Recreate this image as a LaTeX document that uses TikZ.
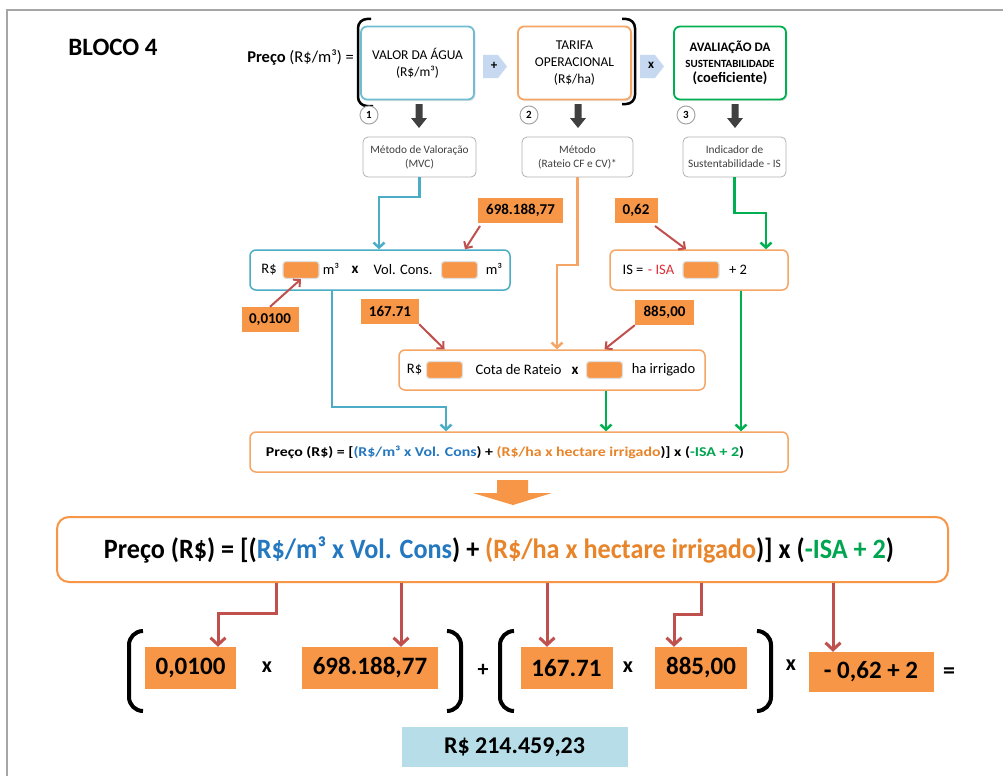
\documentclass[tikz,border=0pt]{standalone}
\usepackage{fontspec}
\setmainfont{Carlito}
\usepackage{graphicx}
\usetikzlibrary{arrows.meta,shadows}
\definecolor{orf}{HTML}{F79646}
\definecolor{orb}{HTML}{F5A565}
\definecolor{blb}{HTML}{4BACC6}
\definecolor{grb}{HTML}{00B050}
\definecolor{rar}{HTML}{C0504D}
\definecolor{btx}{HTML}{2478C0}
\definecolor{otx}{HTML}{E8842A}
\definecolor{gtx}{HTML}{00A550}
\definecolor{rtx}{HTML}{E0303A}
\definecolor{resb}{HTML}{B7DEE8}
\definecolor{darr}{HTML}{404040}
\definecolor{chev}{HTML}{C6D9F1}
\definecolor{frm}{HTML}{A6A6A6}
\newcommand{\fz}[2]{\fontsize{#1}{#2}\selectfont}
\begin{document}
\begin{tikzpicture}[x=1pt,y=-1pt,
  tbox/.style={draw, rounded corners=6pt, line width=1.8pt, fill=white, align=center, inner sep=0pt,
    drop shadow={opacity=0.2, shadow xshift=1.5pt, shadow yshift=-1.5pt}},
  sbox/.style={draw=gray!60, rounded corners=5pt, line width=0.8pt, fill=white, align=center,
    inner sep=0pt, text=darr, font=\fz{11.3}{14}},
  mbox/.style={draw, rounded corners=6pt, line width=1.5pt, fill=white, inner sep=0pt},
  lab/.style={fill=orf, inner sep=0pt, minimum height=25pt, font=\fz{15}{17}\bfseries},
  slot/.style={fill=orf, draw=black!12, line width=1.2pt, rounded corners=3pt, minimum width=36pt,
    minimum height=17pt, inner sep=0pt},
  num/.style={fill=orf, inner sep=0pt, minimum height=42pt, font=\fz{25}{30}\bfseries},
  circ/.style={circle, draw=gray!70, line width=1pt, fill=white, minimum size=18pt, inner sep=0pt,
    font=\fz{11}{13}\bfseries},
  txt/.style={inner sep=0pt, font=\fz{14.5}{17}},
  rarr/.style={draw=rar, line width=3pt, -{Straight Barb[length=7pt,width=15pt]}},
  rsm/.style={draw=rar, line width=2pt, -{Straight Barb[length=5pt,width=10pt]}},
  conn/.style={line width=2.5pt, -{Straight Barb[length=5pt,width=11pt]}},
  brk/.style={line width=2.5pt, rounded corners=9pt},
  bbrk/.style={line width=4pt, rounded corners=14pt},
]
\useasboundingbox (0,0) rectangle (1003,776);
\fill[white] (0,0) rectangle (1003,776);
\draw[frm, line width=1.5pt] (7,776) -- (7,10) -- (1003,10);

% title
\node[inner sep=0pt, font=\fz{25}{30}\bfseries] (bloco) at (113,47) {BLOCO 4};
\node[anchor=east, inner sep=0pt, font=\fz{16.5}{19}] (preco) at (354,58) {\textbf{Preço} (R\$/m³) =};

% top boxes
\node[tbox, draw=blb!80, minimum width=113pt, minimum height=73pt, font=\fz{13.5}{17}] (box1) at (417.5,63) {VALOR DA ÁGUA\\(R\$/m³)};
\node[tbox, draw=orb, minimum width=113pt, minimum height=73pt, font=\fz{13.5}{17}] (box2) at (574.5,63) {TARIFA\\OPERACIONAL\\(R\$/ha)};
\node[tbox, draw=grb, minimum width=112pt, minimum height=73pt, font=\fz{13}{15.5}\bfseries] (box3) at (730,63)
  {AVALIAÇÃO DA\\{\fz{11}{15.5}\bfseries SUSTENTABILIDADE}\\{\fz{14.5}{15.5}\bfseries (coeficiente)}};

% brackets
\draw[brk] (371,19) -- (358,19) -- (358,106) -- (373,106);
\draw[brk] (622,19) -- (635,19) -- (635,104) -- (622,104);

% chevrons
\fill[chev] (483,55) -- (498,55) -- (507,66.5) -- (498,78) -- (483,78) -- cycle;
\node[inner sep=0pt, font=\fz{13}{15}\bfseries] (plus) at (494,66) {+};
\fill[chev] (640,55) -- (655,55) -- (664,66.5) -- (655,78) -- (640,78) -- cycle;
\node[inner sep=0pt, font=\fz{13}{15}\bfseries] (times) at (651,65) {x};

% numbered circles and dark arrows
\node[circ] (c1) at (369,115) {1};
\node[circ] (c2) at (529,115) {2};
\node[circ] (c3) at (686,115) {3};
\foreach \xx in {419,578,735}{
  \fill[darr] (\xx-3.5,104) -- (\xx+3.5,104) -- (\xx+3.5,118) -- (\xx+8,118) -- (\xx,128)
    -- (\xx-8,118) -- (\xx-3.5,118) -- cycle;
}

% small boxes
\node[sbox, minimum width=113pt, minimum height=40pt] (small1) at (419.5,157) {Método de Valoração\\(MVC)};
\node[sbox, minimum width=111pt, minimum height=40pt] (small2) at (577.5,157) {Método\\(Rateio CF e CV)*};
\node[sbox, minimum width=103pt, minimum height=40pt] (small3) at (734.5,157) {Indicador de\\Sustentabilidade - IS};

% middle boxes
\node[mbox, draw=blb, minimum width=260pt, minimum height=40pt] (rbox) at (380,270) {};
\node[txt] (t1) at (269,270) {R\$};
\node[slot] (s1) at (301,270) {};
\node[txt] (t2) at (331,269) {m³};
\node[txt, font=\fz{15}{17}\bfseries] (t3) at (355,270) {x};
\node[txt] (t4) at (403,270) {Vol. Cons.};
\node[slot] (s2) at (459.5,270) {};
\node[txt] (t5) at (494,269) {m³};

\node[mbox, draw=orb, minimum width=178pt, minimum height=40pt] (isbox) at (699,270) {};
\node[txt] (i1) at (633,270) {IS =};
\node[txt, text=rtx] (i2) at (661,270) {- ISA};
\node[slot] (s3) at (701,270) {};
\node[txt] (i3) at (738,270) {+ 2};

\node[mbox, draw=orb, minimum width=306pt, minimum height=40pt] (cota) at (552,370) {};
\node[txt] (k1) at (414.5,370) {R\$};
\node[slot] (sc1) at (444.5,370) {};
\node[txt] (k2) at (518.5,370) {Cota de Rateio};
\node[txt, font=\fz{15}{17}\bfseries] (k3) at (575,371) {x};
\node[slot] (sc2) at (604.5,370) {};
\node[txt] (k4) at (663.5,370) {ha irrigado};

\node[mbox, draw=orb, minimum width=538pt, minimum height=40pt] (formf) at (519,452) {};
\node[inner sep=0pt] (formt) at (505,452) {\resizebox{478pt}{\height}{\fz{13.5}{16}\bfseries Preço (R\$) = [\textcolor{btx}{(R\$/m³ x Vol. Cons}) + \textcolor{otx}{(R\$/ha x hectare irrigado})] x (\textcolor{gtx}{-ISA + 2})}};

% value labels
\node[lab, minimum width=85pt] (l698) at (520.5,210.5) {698.188,77};
\node[lab, minimum width=43pt] (l062) at (636,210.5) {0,62};
\node[lab, minimum width=57pt] (l0100) at (270,319.5) {0,0100};
\node[lab, minimum width=58pt] (l167) at (390,311.5) {167.71};
\node[lab, minimum width=59pt] (l885) at (664.5,312.5) {885,00};

% coordinates for connectors
\coordinate (bk1) at (379,197);
\coordinate (ok1) at (557,265);
\coordinate (gk1) at (766,213);
\coordinate (bk2) at (332,0);
\coordinate (bk3) at (446,407);
\coordinate (g2) at (606,0);
\coordinate (g3) at (741,0);
\coordinate (e698) at (465,0);
\coordinate (e062) at (686,0);
\coordinate (st698) at (480,226);
\coordinate (st062) at (655,226);

% top connectors
\draw[conn, draw=blb] (small1.south) |- (bk1) -- (rbox.north -| bk1);
\draw[conn, draw=orb] (small2.south) |- (ok1) -- (cota.north -| ok1);
\draw[conn, draw=grb] (small3.south) |- (gk1) -- (isbox.north -| gk1);
\draw[conn, draw=blb] (rbox.south -| bk2) |- (bk3) -- (formf.north -| bk3);
\draw[conn, draw=grb] (cota.south -| g2) -- (formf.north -| g2);
\draw[conn, draw=grb] (isbox.south -| g3) -- (formf.north -| g3);

% small red arrows
\draw[rsm] (st698) -- (rbox.north -| e698);
\draw[rsm] (st062) -- (isbox.north -| e062);
\draw[rsm] (l0100.north) -- (s1.south);
\draw[rsm] (l167.south east) -- (cota.north -| sc1);
\draw[rsm] (l885.south west) -- (cota.north -| sc2);

% big orange down arrow
\fill[orf] (497,480) -- (528,480) -- (528,493) -- (552,493) -- (513,505) -- (473,493) -- (497,493) -- cycle;

% big formula
\node[draw=orf, line width=2pt, rounded corners=12pt, fill=white, minimum width=891pt, minimum height=65pt, inner sep=0pt] (bigf) at (502.5,549.5) {};
\node[inner sep=0pt] (bigt) at (499,550) {\resizebox{790pt}{\height}{\fz{28}{34}\bfseries Preço (R\$) = [(\textcolor{btx}{R\$/m³ x Vol. Cons}) + \textcolor{otx}{(R\$/ha x hectare irrigado})] x (\textcolor{gtx}{-ISA + 2})}};

% bottom row
\node[num, minimum width=91pt] (n0100) at (190.5,668) {0,0100};
\node[num, minimum width=136pt] (n698) at (370,668) {698.188,77};
\node[num, minimum width=92pt] (n167) at (566.5,668) {167.71};
\node[num, minimum width=92pt] (n885) at (701,668) {885,00};
\node[num, minimum width=125pt, minimum height=40pt] (nis) at (871,672) {- 0,62 + 2};
\node[inner sep=0pt, font=\fz{22}{26}\bfseries] (x1) at (267,667) {x};
\node[inner sep=0pt, font=\fz{22}{26}\bfseries] (p1) at (483,670) {+};
\node[inner sep=0pt, font=\fz{22}{26}\bfseries] (x2) at (628,667) {x};
\node[inner sep=0pt, font=\fz{22}{26}\bfseries] (x3) at (791,665) {x};
\node[inner sep=0pt, font=\fz{24}{28}\bfseries] (eq) at (949,673) {=};

\draw[bbrk] (143,631) -- (129,631) -- (129,711) -- (143,711);
\draw[bbrk] (447,631) -- (461,631) -- (461,711) -- (447,711);
\draw[bbrk] (514,631) -- (500,631) -- (500,711) -- (514,711);
\draw[bbrk] (757,631) -- (771,631) -- (771,711) -- (757,711);

% arrows from big formula
\coordinate (a1) at (276,0);
\coordinate (a1b) at (218,613);
\coordinate (a2) at (401,0);
\coordinate (a3) at (547,0);
\coordinate (a4) at (701,0);
\coordinate (a4b) at (674,614);
\coordinate (a5) at (833,0);
\draw[rarr] (bigf.south -| a1) |- (a1b) -- (n0100.north -| a1b);
\draw[rarr] (bigf.south -| a2) -- (n698.north -| a2);
\draw[rarr] (bigf.south -| a3) -- (n167.north -| a3);
\draw[rarr] (bigf.south -| a4) |- (a4b) -- (n885.north -| a4b);
\draw[rarr] (bigf.south -| a5) -- (nis.north -| a5);

% result
\node[fill=resb, inner sep=0pt, minimum width=226pt, minimum height=40pt, font=\fz{24}{28}\bfseries] (res) at (514.5,747) {R\$ 214.459,23};
\end{tikzpicture}
\end{document}
